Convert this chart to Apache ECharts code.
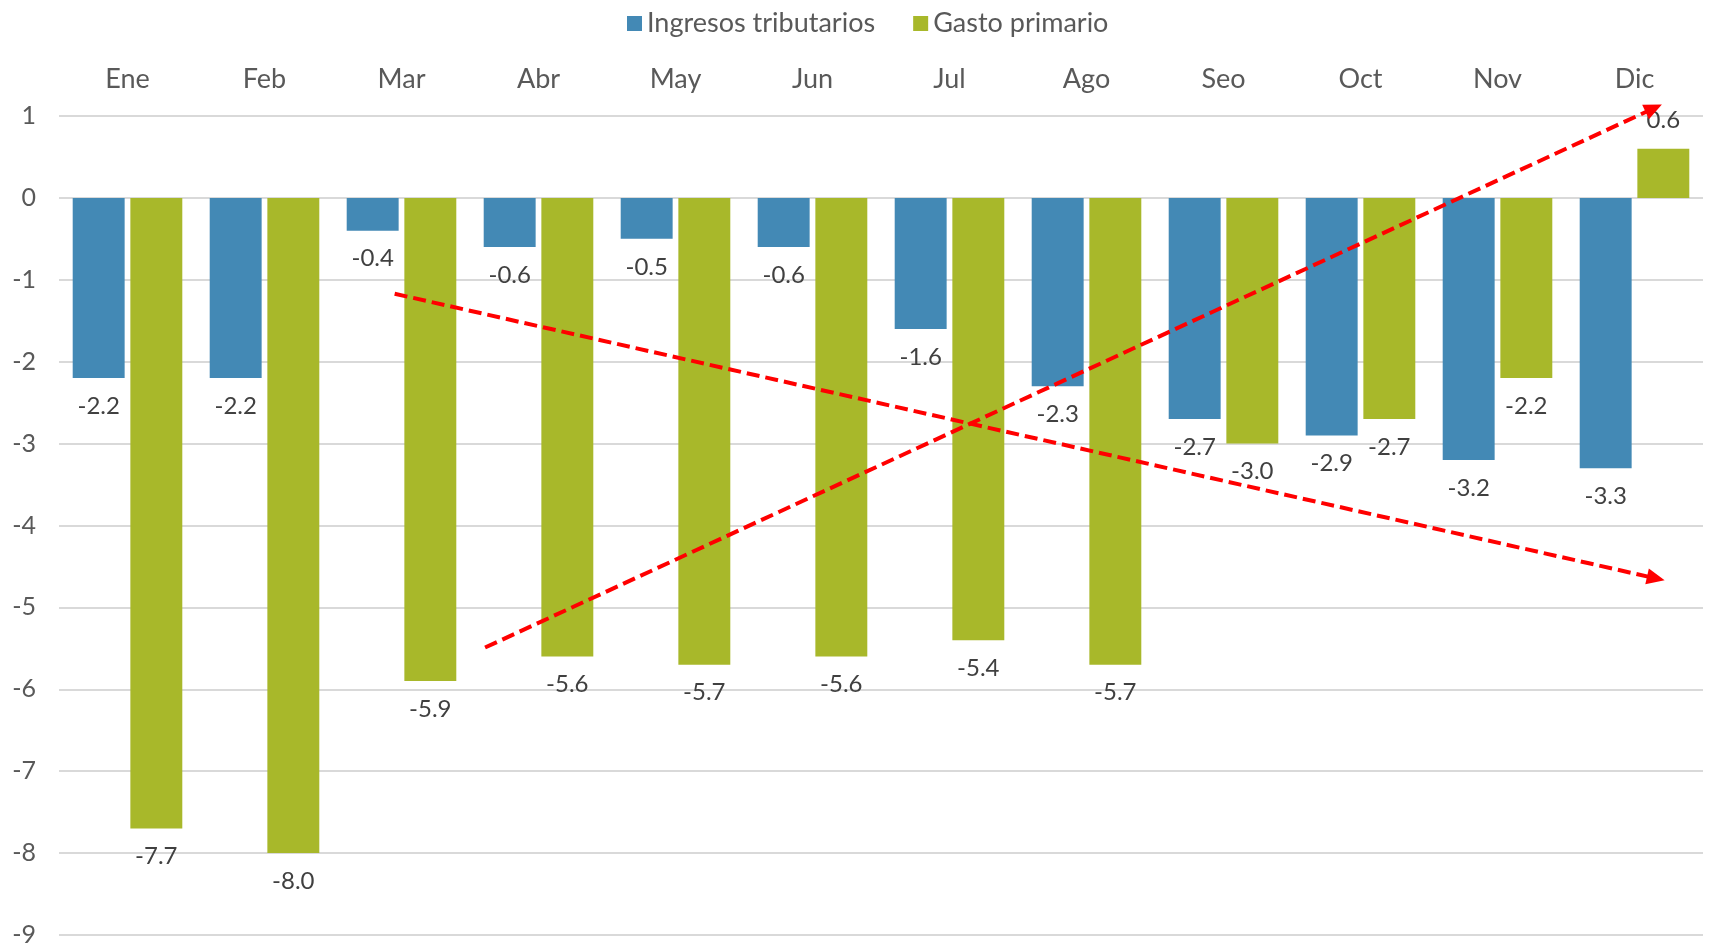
<!DOCTYPE html>
<html>
<head>
<meta charset="utf-8">
<script src="https://cdn.jsdelivr.net/npm/echarts@6/dist/echarts.min.js"></script>
<style>
html,body{margin:0;padding:0;background:#fff;}
#chart{width:1711px;height:948px;}
</style>
</head>
<body>
<div id="chart"></div>
<script>
const categories = ['Ene','Feb','Mar','Abr','May','Jun','Jul','Ago','Seo','Oct','Nov','Dic'];
const ingresos = [-2.2,-2.2,-0.4,-0.6,-0.5,-0.6,-1.6,-2.3,-2.7,-2.9,-3.2,-3.3];
const gasto = [-7.7,-8.0,-5.9,-5.6,-5.7,-5.6,-5.4,-5.7,-3.0,-2.7,-2.2,0.6];
const seriesNames = ['Ingresos tributarios','Gasto primario'];
// annotation arrows: [x (category-band units, 0..12), y value] start and end
const arrowDown = [[2.45,-1.17],[11.72,-4.67]];
const arrowUp = [[3.11,-5.49],[11.70,1.14]];

const FONT = 'Lato';
const chart = echarts.init(document.getElementById('chart'));
const labelCfg = {
  show: true, position: 'outside', distance: 16,
  color: '#404040', fontSize: 24, fontFamily: FONT,
  formatter: p => p.value.toFixed(1)
};
chart.setOption({
  animation: false,
  legend: {
    top: 5, left: 622, itemWidth: 15, itemHeight: 15, itemGap: 38,
    icon: 'rect', data: seriesNames,
    textStyle: {fontSize: 27, color: '#595959', fontFamily: FONT}
  },
  grid: {left: 59, right: 8, top: 116, bottom: 13, containLabel: false},
  xAxis: [{
    type: 'category', data: categories, position: 'top',
    axisLine: {show: false}, axisTick: {show: false},
    axisLabel: {fontSize: 27, color: '#595959', fontFamily: FONT, margin: 23}
  },{
    type: 'value', min: 0, max: 12, show: false
  }],
  yAxis: {
    type: 'value', min: -9, max: 1, interval: 1,
    axisLine: {show: false}, axisTick: {show: false},
    axisLabel: {fontSize: 25, color: '#595959', fontFamily: FONT, margin: 23},
    splitLine: {lineStyle: {color: '#d9d9d9', width: 2}}
  },
  series: [{
    name: seriesNames[0], type: 'bar', data: ingresos,
    itemStyle: {color: '#4389B5'},
    barGap: '11%', barCategoryGap: '20%', label: labelCfg
  },{
    name: seriesNames[1], type: 'bar', data: gasto,
    itemStyle: {color: '#A8B82A'},
    barGap: '11%', barCategoryGap: '20%', label: labelCfg
  }]
});

function arrowGraphic(pts) {
  const finder = {xAxisIndex: 1, yAxisIndex: 0};
  const a = chart.convertToPixel(finder, pts[0]);
  const b = chart.convertToPixel(finder, pts[1]);
  const dx = b[0] - a[0], dy = b[1] - a[1];
  const len = Math.sqrt(dx * dx + dy * dy);
  const ux = dx / len, uy = dy / len;
  const headL = 18, headW = 8;
  const bx = b[0] - ux * headL, by = b[1] - uy * headL;
  return [{
    type: 'line', z: 100, silent: true,
    shape: {x1: a[0], y1: a[1], x2: bx + ux * 2, y2: by + uy * 2},
    style: {stroke: '#FF0000', lineWidth: 4, lineDash: [13, 6]}
  },{
    type: 'polygon', z: 100, silent: true,
    shape: {points: [[b[0], b[1]], [bx - uy * headW, by + ux * headW], [bx + uy * headW, by - ux * headW]]},
    style: {fill: '#FF0000'}
  }];
}
chart.setOption({graphic: arrowGraphic(arrowDown).concat(arrowGraphic(arrowUp))});
</script>
</body>
</html>
